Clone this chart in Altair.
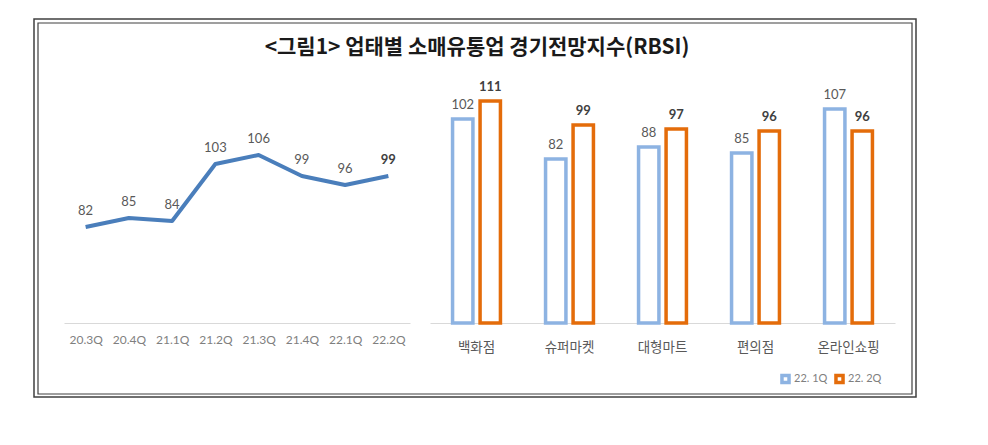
import altair as alt
import pandas as pd

# ---- data ----
quarters = ["20.3Q", "20.4Q", "21.1Q", "21.2Q", "21.3Q", "21.4Q", "22.1Q", "22.2Q"]
rbsi_values = [82, 85, 84, 103, 106, 99, 96, 99]

categories = ["백화점", "슈퍼마켓", "대형마트", "편의점", "온라인쇼핑"]
series_names = ["22. 1Q", "22. 2Q"]
q1_values = [102, 82, 88, 85, 107]
q2_values = [111, 99, 97, 96, 96]

title_text = "<그림1> 업태별 소매유통업 경기전망지수(RBSI)"

KR = "Noto Sans CJK KR"
NUM = "Lato"

line_df = pd.DataFrame({"quarter": quarters, "value": rbsi_values,
                        "last": [i == len(quarters) - 1 for i in range(len(quarters))]})

bar_rows = []
for c, a, b in zip(categories, q1_values, q2_values):
    bar_rows.append({"category": c, "series": series_names[0], "value": a})
    bar_rows.append({"category": c, "series": series_names[1], "value": b})
bar_df = pd.DataFrame(bar_rows)

one = pd.DataFrame({"t": [title_text]})

# ---- left: line chart ----
x_line = alt.X("quarter:O", sort=quarters,
               scale=alt.Scale(type="point", padding=0.5),
               axis=alt.Axis(title=None, labelAngle=0, ticks=False, domainColor="#d9d9d9",
                             domainWidth=1.2, labelFont=NUM, labelFontSize=12,
                             labelColor="#7f7f7f", labelPadding=11))
y_line = alt.Y("value:Q", scale=alt.Scale(domain=[50, 130]), axis=None)

base_line = alt.Chart(line_df).encode(x=x_line, y=y_line)
line = base_line.mark_line(color="#4a7ebb", strokeWidth=4, strokeJoin="round")
line_lbl = base_line.transform_filter("!datum.last").mark_text(
    dy=-16, font=NUM, fontSize=13, color="#595959").encode(text="value:Q")
line_lbl_last = base_line.transform_filter("datum.last").mark_text(
    dy=-16, font=NUM, fontSize=13, fontWeight="bold", color="#404040").encode(text="value:Q")

frame_outer = alt.Chart(one).mark_rect(fill=None, stroke="#404040", strokeWidth=1.5).encode(
    x=alt.value(-30), x2=alt.value(852), y=alt.value(-64), y2=alt.value(314))
frame_inner = alt.Chart(one).mark_rect(fill=None, stroke="#404040", strokeWidth=1.2).encode(
    x=alt.value(-26), x2=alt.value(848), y=alt.value(-60), y2=alt.value(311))
title_mark = alt.Chart(one).mark_text(font=KR, fontSize=21, fontWeight="bold",
                                      color="#1a1a1a", align="center", baseline="middle").encode(
    x=alt.value(413), y=alt.value(-35), text="t:N")

left = alt.layer(frame_outer, frame_inner, title_mark, line, line_lbl, line_lbl_last).properties(
    width=346, height=240)

# ---- right: grouped bars ----
colors = ["#8db3e2", "#e46c0a"]
x_bar = alt.X("category:N", sort=categories,
              scale=alt.Scale(paddingInner=0, paddingOuter=0),
              axis=alt.Axis(title=None, labelAngle=0, ticks=False, domainColor="#d9d9d9",
                            domainWidth=1.2, labelFont=KR, labelFontSize=13.5,
                            labelColor="#595959", labelPadding=17))
xoff = alt.XOffset("series:N", sort=series_names,
                   scale=alt.Scale(paddingInner=0.26, paddingOuter=0.82))
y_bar = alt.Y("value:Q", scale=alt.Scale(domain=[0, 120]), axis=None)

base_bar = alt.Chart(bar_df).encode(x=x_bar, xOffset=xoff, y=y_bar)
bars = base_bar.mark_bar(fill="white", strokeWidth=3.5).encode(
    stroke=alt.Stroke("series:N", sort=series_names,
                      scale=alt.Scale(domain=series_names, range=colors),
                      legend=alt.Legend(title=None, orient="none", legendX=716, legendY=290,
                                        direction="horizontal", symbolType="square",
                                        symbolSize=50, symbolStrokeWidth=3.5,
                                        labelFont=NUM, labelFontSize=11,
                                        labelColor="#7f7f7f", labelOffset=3,
                                        columnPadding=0)))
bar_lbl_1 = base_bar.transform_filter(alt.datum.series == series_names[0]).mark_text(
    dy=-14, font=NUM, fontSize=13, color="#595959").encode(text="value:Q")
bar_lbl_2 = base_bar.transform_filter(alt.datum.series == series_names[1]).mark_text(
    dy=-14, font=NUM, fontSize=13, fontWeight="bold", color="#404040").encode(text="value:Q")

right = alt.layer(bars, bar_lbl_1, bar_lbl_2).properties(width=465, height=240)

chart = alt.hconcat(left, right, spacing=20, bounds="flush").properties(
    padding={"left": 25, "top": 10, "right": 10, "bottom": 10}
).configure_view(stroke=None)

chart.save("out.html", embed_options={"renderer": "svg", "actions": False})
